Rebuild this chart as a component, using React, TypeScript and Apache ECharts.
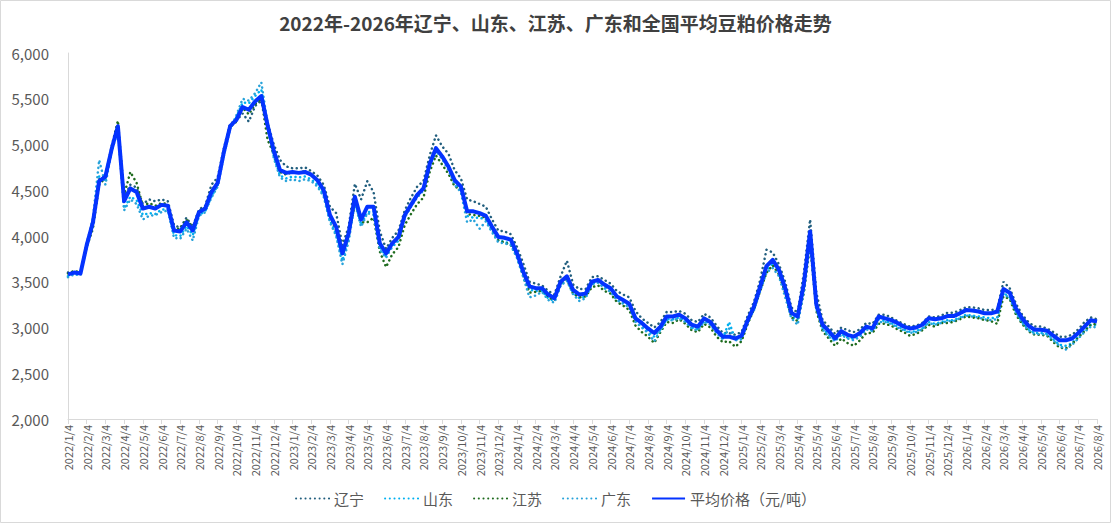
import React, { useEffect, useRef } from "react";
import * as echarts from "echarts";

// Category dates: three samples per month (4th, 14th, 24th), 2022/1/4 .. 2026/8/4
const START_YEAR = 2022;
const END_YEAR = 2026;
const END_MONTH = 8;
const SAMPLE_DAYS = [4, 14, 24];

const categories: string[] = [];
for (let y = START_YEAR; y <= END_YEAR; y++) {
  for (let m = 1; m <= 12; m++) {
    if (y === END_YEAR && m > END_MONTH) break;
    for (const d of SAMPLE_DAYS) {
      if (y === END_YEAR && m === END_MONTH && d > 4) break;
      categories.push(`${y}/${m}/${d}`);
    }
  }
}

const Y_TICKS = [2000, 2500, 3000, 3500, 4000, 4500, 5000, 5500, 6000];

const liaoning = [
  3600,3610,3600, 3920,4170,4620, 4660,4960,5210, 4420,4560,4530, 4350,4400,4380, 4400,4380,4120,
  4090,4200,4100, 4290,4330,4560, 4640,4960,5230, 5260,5340,5250, 5420,5480,5240, 5000,4830,4760,
  4740,4740,4750, 4710,4660,4560, 4320,4250,3900, 4100,4570,4400, 4600,4480,4050, 3860,3980,4060,
  4280,4420,4540, 4600,4880,5100, 4980,4900,4720, 4630,4400,4380, 4350,4320,4180, 4060,4050,4020,
  3880,3700,3500, 3480,3460,3400, 3360,3560,3730, 3470,3420,3420, 3550,3560,3520, 3480,3400,3360,
  3330,3180,3100, 3050,3000,3060, 3170,3170,3180, 3150,3080,3060, 3150,3110,3020, 2940,2940,2920,
  2950,3130,3280, 3520,3850,3820, 3690,3500,3220, 3160,3600,4180, 3380,3080,3010, 2930,3000,2970,
  2950,2980,3050, 3040,3140,3140, 3110,3070,3040, 3010,3020,3050, 3120,3110,3130, 3160,3160,3190,
  3220,3220,3210, 3190,3190,3200, 3500,3430,3260, 3140,3060,3010, 3010,2990,2950, 2900,2900,2920,
  2980,3060,3110, 3090,
];

const shandong = [
  3560,3590,3580, 3880,4120,4650, 4600,4920,5180, 4300,4430,4390, 4230,4250,4240, 4290,4290,4010,
  4000,4110,4010, 4230,4270,4430, 4550,4890,5180, 5300,5460,5450, 5530,5600,5200, 4870,4660,4630,
  4650,4640,4650, 4620,4560,4450, 4170,4020,3730, 3980,4380,4120, 4260,4270,3880, 3780,3880,3950,
  4210,4320,4440, 4510,4780,4960, 4860,4750,4590, 4500,4220,4200, 4200,4180,4060, 3950,3940,3910,
  3770,3570,3410, 3400,3400,3320, 3290,3470,3530, 3380,3320,3340, 3480,3500,3440, 3400,3310,3270,
  3230,3070,3010, 2960,2900,2980, 3090,3090,3110, 3070,3000,2980, 3070,3040,2950, 2880,3060,2870,
  2880,3050,3200, 3420,3620,3700, 3600,3390,3120, 3090,3420,3980, 3200,2990,2920, 2860,2930,2890,
  2880,2910,2990, 2970,3090,3070, 3050,3010,2980, 2950,2960,2990, 3060,3040,3060, 3080,3080,3110,
  3140,3130,3120, 3110,3100,3110, 3380,3330,3170, 3060,2980,2940, 2940,2930,2870, 2810,2800,2830,
  2900,2970,3030, 3030,
];

const jiangsu = [
  3590,3620,3600, 3880,4080,4560, 4640,4980,5260, 4450,4700,4580, 4330,4360,4330, 4360,4350,4080,
  4080,4180,4090, 4270,4310,4500, 4580,4930,5190, 5250,5400,5330, 5440,5500,5050, 4900,4700,4670,
  4700,4690,4710, 4670,4600,4490, 4220,4060,3800, 4000,4350,4150, 4150,4200,3830, 3660,3800,3880,
  4120,4240,4350, 4420,4700,4880, 4780,4680,4540, 4510,4240,4230, 4220,4200,4080, 3950,3930,3900,
  3780,3560,3380, 3390,3400,3330, 3300,3470,3520, 3370,3330,3340, 3440,3460,3400, 3370,3280,3240,
  3190,3020,2950, 2900,2830,2950, 3060,3050,3090, 3040,2970,2950, 3040,3000,2900, 2840,2850,2790,
  2850,3040,3200, 3400,3600,3680, 3580,3380,3110, 3070,3380,3900, 3180,2960,2880, 2800,2880,2830,
  2800,2860,2940, 2940,3040,3040, 3020,2980,2950, 2910,2930,2970, 3030,3010,3050, 3050,3060,3090,
  3120,3110,3100, 3080,3070,3040, 3340,3310,3140, 3040,2960,2920, 2920,2910,2840, 2780,2770,2820,
  2890,2960,3030, 3040,
];

const guangdong = [
  3550,3580,3570, 3900,4200,4830, 4560,4930,5150, 4280,4400,4350, 4180,4220,4230, 4260,4280,3980,
  3970,4080,3950, 4220,4260,4420, 4540,4880,5170, 5320,5500,5480, 5560,5680,5230, 4850,4640,4600,
  4620,4600,4620, 4600,4540,4430, 4150,4000,3690, 3940,4360,4100, 4250,4230,3850, 3760,3900,3960,
  4200,4330,4420, 4500,4760,4930, 4840,4720,4560, 4480,4150,4180, 4080,4160,4040, 3930,3920,3900,
  3760,3550,3330, 3350,3390,3300, 3270,3460,3510, 3360,3290,3320, 3470,3490,3430, 3390,3300,3260,
  3220,3060,3000, 2940,2850,2970, 3080,3080,3100, 3060,2990,2970, 3060,3030,2940, 2870,2990,2860,
  2870,3060,3190, 3400,3600,3650, 3560,3330,3100, 3030,3400,3950, 3210,2980,2900, 2850,2920,2880,
  2860,2900,2980, 2960,3060,3060, 3040,3000,2970, 2940,2950,2980, 3050,3030,3050, 3070,3070,3100,
  3130,3120,3110, 3090,3080,3090, 3370,3320,3160, 3050,2970,2930, 2930,2920,2860, 2800,2760,2810,
  2880,2950,3010, 3000,
];

const average = [
  3580,3600,3590, 3900,4150,4600, 4650,4950,5200, 4380,4520,4480, 4300,4320,4300, 4340,4330,4060,
  4050,4150,4060, 4260,4300,4480, 4580,4920,5200, 5270,5410,5380, 5470,5530,5210, 4930,4720,4690,
  4700,4690,4700, 4670,4610,4500, 4230,4100,3810, 4030,4430,4180, 4320,4320,3920, 3810,3920,3990,
  4230,4340,4450, 4520,4790,4960, 4870,4760,4610, 4540,4270,4270, 4250,4220,4100, 3990,3980,3960,
  3810,3610,3450, 3430,3430,3360, 3320,3500,3560, 3410,3360,3370, 3500,3520,3470, 3430,3340,3300,
  3260,3100,3050, 2990,2940,3010, 3120,3120,3140, 3100,3030,3010, 3100,3060,2970, 2900,2900,2880,
  2910,3080,3230, 3450,3670,3740, 3630,3430,3160, 3120,3480,4050, 3250,3030,2960, 2880,2960,2920,
  2900,2940,3010, 2990,3120,3100, 3080,3050,3010, 2990,3000,3030, 3100,3090,3100, 3125,3125,3155,
  3190,3185,3175, 3155,3155,3175, 3420,3380,3210, 3100,3020,2975, 2975,2965,2910, 2860,2860,2880,
  2940,3010,3080, 3065,
];

const FONT = "'Noto Sans CJK SC', 'Noto Sans', sans-serif";
const labelEvery = (i: number) => i % 3 === 0;

function dotted(name: string, color: string, data: number[]) {
  return {
    name,
    type: "line",
    data,
    symbol: "none",
    smooth: false,
    lineStyle: { color, width: 2.5, type: [0.1, 4.6], cap: "round" },
    itemStyle: { color },
  };
}

export default function App() {
  const ref = useRef<HTMLDivElement>(null);
  useEffect(() => {
    document.body.style.margin = "0";
    if (!ref.current) return;
    const chart = echarts.init(ref.current, null, { renderer: "svg" });
    chart.setOption({
      animation: false,
      backgroundColor: "#ffffff",
      textStyle: { fontFamily: FONT },
      title: {
        text: "2022年-2026年辽宁、山东、江苏、广东和全国平均豆粕价格走势",
        left: "center",
        top: 8,
        textStyle: { fontFamily: FONT, fontSize: 19, fontWeight: "bold", color: "#404040" },
      },
      graphic: [
        {
          type: "rect",
          shape: { x: 0.5, y: 0.5, width: 1110, height: 522 },
          style: { fill: "none", stroke: "#d9d9d9", lineWidth: 1 },
          silent: true,
        },
      ],
      legend: {
        bottom: 12,
        left: "center",
        itemWidth: 33,
        itemHeight: 14,
        itemGap: 20,
        itemStyle: { opacity: 0 },
        textStyle: { fontFamily: FONT, fontSize: 15, color: "#595959" },
        data: ["辽宁", "山东", "江苏", "广东", "平均价格（元/吨）"],
      },
      grid: { left: 68, right: 14, top: 53, bottom: 104, containLabel: false },
      xAxis: {
        type: "category",
        data: categories,
        boundaryGap: false,
        axisLine: { show: true, lineStyle: { color: "#d9d9d9", width: 1 } },
        axisTick: { show: true, interval: labelEvery, length: 5, lineStyle: { color: "#d9d9d9" } },
        axisLabel: {
          interval: labelEvery,
          rotate: 90,
          fontSize: 11,
          color: "#595959",
          fontFamily: FONT,
          margin: 6,
        },
        splitLine: { show: false },
      },
      yAxis: {
        type: "value",
        min: Y_TICKS[0],
        max: Y_TICKS[Y_TICKS.length - 1],
        interval: 500,
        axisLine: { show: true, lineStyle: { color: "#d9d9d9", width: 1 } },
        axisTick: { show: false },
        splitLine: { show: false },
        axisLabel: {
          fontSize: 15,
          color: "#595959",
          fontFamily: FONT,
          margin: 19,
          formatter: (v: number) => v.toLocaleString("en-US"),
        },
      },
      series: [
        dotted("辽宁", "#215E7E", liaoning),
        dotted("山东", "#00B0F0", shandong),
        dotted("江苏", "#1E6B1E", jiangsu),
        dotted("广东", "#26A2DA", guangdong),
        {
          name: "平均价格（元/吨）",
          type: "line",
          data: average,
          symbol: "none",
          lineStyle: { color: "#0433FF", width: 4, join: "round" },
          itemStyle: { color: "#0433FF" },
        },
      ],
    });
    return () => chart.dispose();
  }, []);
  return <div ref={ref} style={{ width: 1111, height: 523 }} />;
}
